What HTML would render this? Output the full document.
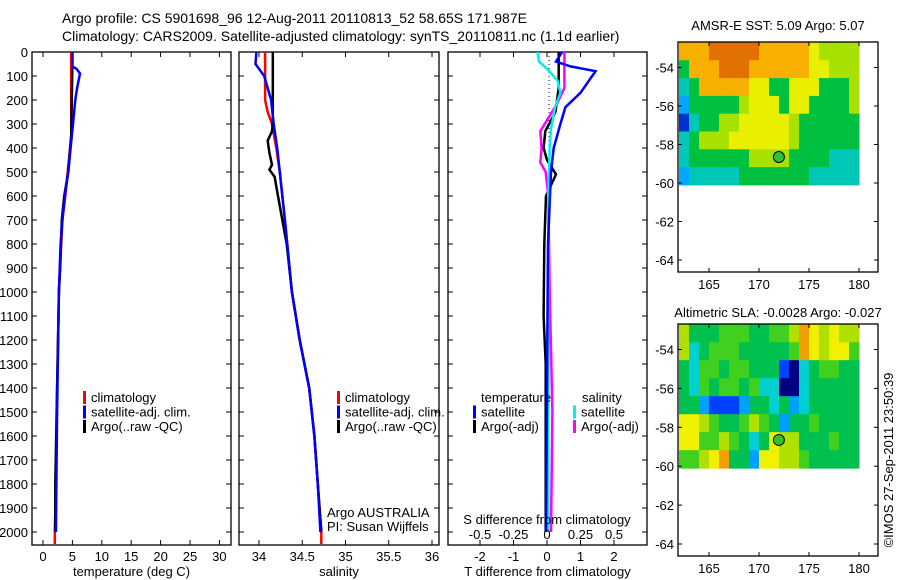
<!DOCTYPE html>
<html><head><meta charset="utf-8"><style>
html,body{margin:0;padding:0;background:#fff}
svg{display:block}
text{font-family:"Liberation Sans",sans-serif;font-size:13px;fill:#000}
</style></head><body>
<svg id="fig" width="900" height="580" viewBox="0 0 900 580" xmlns="http://www.w3.org/2000/svg">
<g>
<text x="62" y="23" style="font-size:14px">Argo profile: CS 5901698_96 12-Aug-2011 20110813_52 58.65S 171.987E</text>
<text x="62" y="41" style="font-size:14px">Climatology: CARS2009. Satellite-adjusted climatology: synTS_20110811.nc (1.1d earlier)</text>
<text x="778" y="30" text-anchor="middle">AMSR-E SST: 5.09 Argo: 5.07</text>
<text x="778" y="317" text-anchor="middle">Altimetric SLA: -0.0028 Argo: -0.027</text>
<text transform="translate(893,460) rotate(-90)" text-anchor="middle">©IMOS 27-Sep-2011 23:50:39</text>
</g>
<g id="plots"></g>
</svg>
<script>
// ---------- data ----------
const depthTicks=[0,100,200,300,400,500,600,700,800,900,1000,1100,1200,1300,1400,1500,1600,1700,1800,1900,2000];
const tempTicks=[0,5,10,15,20,25,30];
const salTicks=[34,34.5,35,35.5,36];
const tdiffTicks=[-2,-1,0,1,2];
const sdiffTicks=[-0.5,-0.25,0,0.25,0.5];
const sdiffLabels=["-0.5","-0.25","0","0.25","0.5"];

const tClimDepth=[0,120,350,500,600,700,900,1000,1150,1400,1800,2000,2050];
const tClimVal=[4.8,4.8,4.8,4.2,3.8,3.3,2.9,2.7,2.6,2.4,2.2,2.0,2.0];
const tSatDepth=[0,60,70,90,150,200,300,400,500,600,700,800,1000,1500,2000];
const tSatVal=[5.0,5.0,5.7,6.3,5.8,5.5,5.1,4.7,4.3,3.7,3.3,3.0,2.7,2.4,2.2];
const tArgoDepth=[0,50,350,500,600,700,900,1000,1400,1800,2000];
const tArgoVal=[5.0,5.0,4.8,4.3,3.6,3.2,2.9,2.7,2.4,2.1,2.1];

const sClimDepth=[0,200,250,300,400,500,700,1000,1200,1400,1600,1800,2000,2050];
const sClimVal=[34.07,34.07,34.1,34.15,34.2,34.24,34.3,34.38,34.47,34.58,34.64,34.68,34.72,34.72];
const sSatDepth=[0,50,70,100,150,200,300,400,500,700,1000,1200,1400,1600,1800,2000];
const sSatVal=[33.97,33.96,34.0,34.06,34.1,34.14,34.17,34.21,34.24,34.3,34.38,34.47,34.58,34.64,34.68,34.71];
const sArgoDepth=[0,300,330,370,420,470,490,520,600,800,1000,1200,1400,1600,1800,2000];
const sArgoVal=[34.16,34.16,34.15,34.1,34.12,34.15,34.12,34.18,34.22,34.32,34.38,34.47,34.58,34.64,34.68,34.72];

const dTSatDepth=[0,40,60,80,110,170,230,300,400,500,800,2000];
const dTSatVal=[0.45,0.27,0.7,1.45,1.3,1.0,0.55,0.4,0.2,0.12,0.03,-0.03];
const dTArgoDepth=[0,150,250,330,400,450,510,600,800,1100,1300,2000];
const dTArgoVal=[0.35,0.35,0.25,-0.05,-0.1,0.0,0.27,-0.03,-0.08,-0.1,-0.04,-0.04];
const dSSatDepth=[0,40,70,120,170,230,320,400,600,2000];
const dSSatVal=[-0.07,-0.06,0.0,0.08,0.1,0.06,0.03,0.02,0.01,0.01];
const dSArgoDepth=[0,150,220,330,400,460,500,600,1000,1500,2000];
const dSArgoVal=[0.13,0.13,0.07,-0.05,-0.04,-0.05,-0.01,0.01,0.02,0.04,0.03];

const lonTicks=[165,170,175,180];
const latTicks=[-54,-56,-58,-60,-62,-64];
const gridLon0=162, gridLonStep=1;
const gridLatTop=-52.7, gridLatStep=0.925;
const sstRows=["666777776666654444","366677766666655444","236666655335553334","133333455535533334","023344555554333333","234445555554333333","233333344443333222","122222333333322222"];
const slaRows=["644455544556876766","634555444445876775","435545544410345544","435455453300344444","442111244342344444","776544565424454444","775565434766444544","556784427766544444"];
const sstColors=["#0030d0","#00a8ff","#00c8b8","#00c040","#a8e000","#e8f000","#f8b000","#e07000"];
const slaColors=["#000080","#0040ff","#00a0ff","#00d0d0","#00c050","#40d020","#b0e000","#f0f000","#f0a000"];
const argoLon=171.987, argoLat=-58.65;

// ---------- helpers ----------
const NS="http://www.w3.org/2000/svg";
const root=document.getElementById('plots');
function el(tag,attrs,parent){const e=document.createElementNS(NS,tag);for(const k in attrs)e.setAttribute(k,attrs[k]);(parent||root).appendChild(e);return e;}
function txt(s,x,y,anchor,parent){const t=el('text',{x:x,y:y,'text-anchor':anchor||'start'},parent);t.textContent=s;return t;}
const yD=d=>52+d*0.24;

function profilePanel(name,x0,x1,xf,ticks,labels,xlabel,showDepth){
  const g=el('g',{});
  
  
  const fr=el('rect',{x:x0,y:52,width:x1-x0,height:493,fill:'none',stroke:'#000','stroke-width':1.3},g);
  
  
  depthTicks.forEach(d=>{
    el('line',{x1:x0,x2:x0+5,y1:yD(d),y2:yD(d),stroke:'#000'},g);
    el('line',{x1:x1-5,x2:x1,y1:yD(d),y2:yD(d),stroke:'#000'},g);
    if(showDepth){const t=txt(String(d),28,yD(d)+5,'end',g);
      
      }
  });
  ticks.forEach((v,i)=>{
    const x=xf(v);
    el('line',{x1:x,x2:x,y1:545,y2:540,stroke:'#000'},g);
    el('line',{x1:x,x2:x,y1:52,y2:57,stroke:'#000'},g);
    if(labels){const t=txt(labels[i],x,561,'middle',g);
      
      }
  });
  if(xlabel){const t=txt(xlabel,(x0+x1)/2,576,'middle',g);
    
    }
  return g;
}
function series(g,xf,depths,vals,color,w,name){
  const pts=depths.map((d,i)=>xf(vals[i]).toFixed(1)+','+yD(d).toFixed(1)).join(' ');
  const p=el('polyline',{points:pts,fill:'none',stroke:color,'stroke-width':w},g);
  
  
}
function legend(g,items,x,y){
  items.forEach((it,i)=>{
    el('rect',{x:x,y:y+i*14.5-11,width:3,height:13,fill:it[1]},g);
    const t=txt(it[0],x+8,y+i*14.5,'start',g);
    
    
  });
}

// ---------- temperature panel ----------
const xT=v=>43+v*5.88;
const gT=profilePanel('temperature-panel',32,231,xT,tempTicks,tempTicks.map(String),'temperature (deg C)',true);
series(gT,xT,tClimDepth,tClimVal,'#f00',2.5,'temp-climatology-line');
series(gT,xT,tArgoDepth,tArgoVal,'#000',2.5,'temp-argo-line');
series(gT,xT,tSatDepth,tSatVal,'#00f',2.5,'temp-satellite-line');
legend(gT,[['climatology','#f00'],['satellite-adj. clim.','#00f'],['Argo(..raw -QC)','#000']],83,402);

// ---------- salinity panel ----------
const xS=v=>259+(v-34)*86.5;
const gS=profilePanel('salinity-panel',239,439,xS,salTicks,salTicks.map(String),'salinity',false);
series(gS,xS,sClimDepth,sClimVal,'#f00',2.5,'sal-climatology-line');
series(gS,xS,sArgoDepth,sArgoVal,'#000',2.5,'sal-argo-line');
series(gS,xS,sSatDepth,sSatVal,'#00f',2.5,'sal-satellite-line');
legend(gS,[['climatology','#f00'],['satellite-adj. clim.','#00f'],['Argo(..raw -QC)','#000']],337,402);
[['Argo AUSTRALIA',517],['PI: Susan Wijffels',531]].forEach(a=>{const t=txt(a[0],327,a[1],'start',gS);
  
  });

// ---------- difference panel ----------
const xDT=v=>547+v*33.5;
const xDS=v=>547+v*134;
const gD=profilePanel('difference-panel',448,647,xDT,tdiffTicks,tdiffTicks.map(String),'T difference from climatology',false);
el('line',{x1:549,x2:549,y1:52,y2:145,stroke:'#000','stroke-dasharray':'1,3'},gD);
series(gD,xDT,dTArgoDepth,dTArgoVal,'#000',2.5,'tdiff-argo-line');
series(gD,xDS,dSArgoDepth,dSArgoVal,'#f0f',2.5,'sdiff-argo-line');
series(gD,xDS,dSSatDepth,dSSatVal,'#0ee',2.5,'sdiff-satellite-line');
series(gD,xDT,dTSatDepth,dTSatVal,'#00f',2.5,'tdiff-satellite-line');
sdiffTicks.forEach((v,i)=>{const x=xDS(v);
  el('line',{x1:x,x2:x,y1:545,y2:541,stroke:'#000'},gD);
  const t=txt(sdiffLabels[i],x,539,'middle',gD);
  
  });
{const t=txt('S difference from climatology',547,524,'middle',gD);
 
 }
{const t=txt('temperature',481,402,'start',gD);
 
 
 const t2=txt('salinity',582,402,'start',gD);
 
 }
legend(gD,[['satellite','#00f'],['Argo(-adj)','#000']],473,416.5);
legend(gD,[['satellite','#0ee'],['Argo(-adj)','#f0f']],573,416.5);

// ---------- maps ----------
function mapPanel(name,top,bottom,rows,colors){
  const g=el('g',{});
  
  
  const x0=678,x1=878;
  const xL=lon=>709+(lon-165)*10;
  const lat54=top+25.5, pxPerDeg=(bottom-12-lat54)/10;
  const yL=lat=>lat54+(-54-lat)*pxPerDeg;
  rows.forEach((row,r)=>{
    for(let c=0;c<row.length;c++){
      const lon=gridLon0+c*gridLonStep, lat=gridLatTop-r*gridLatStep;
      const xa=xL(lon),xb=xL(lon+gridLonStep),ya=Math.max(yL(lat),top),yb=yL(lat-gridLatStep);
      const cell=el('rect',{x:xa,y:ya,width:xb-xa+0.5,height:yb-ya+0.5,fill:colors[+row[c]]},g);
      
      
    }
  });
  const fr=el('rect',{x:x0,y:top,width:x1-x0,height:bottom-top,fill:'none',stroke:'#000','stroke-width':1.3},g);
  
  
  lonTicks.forEach(l=>{const x=xL(l);
    el('line',{x1:x,x2:x,y1:top,y2:top+4,stroke:'#000'},g);
    el('line',{x1:x,x2:x,y1:bottom,y2:bottom-4,stroke:'#000'},g);
    const t=txt(String(l),x,bottom+17,'middle',g);
    
    });
  latTicks.forEach(l=>{const y=yL(l);
    el('line',{x1:x0,x2:x0+4,y1:y,y2:y,stroke:'#000'},g);
    el('line',{x1:x1-4,x2:x1,y1:y,y2:y,stroke:'#000'},g);
    const t=txt(String(l),674,y+5,'end',g);
    
    });
  const m=el('circle',{cx:xL(argoLon),cy:yL(argoLat),r:5.5,fill:'#30c030',stroke:'#000','stroke-width':1},g);
  
  
}
mapPanel('sst-map',42,272,sstRows,sstColors);
mapPanel('sla-map',324,556,slaRows,slaColors);
</script>
</body></html>
